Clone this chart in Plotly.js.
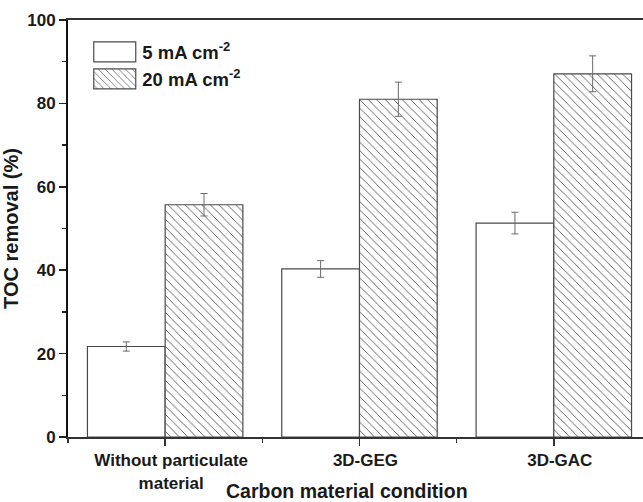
<!DOCTYPE html>
<html>
<head>
<meta charset="utf-8">
<script src="https://cdn.plot.ly/plotly-3.0.1.min.js"></script>
<style>html,body{margin:0;padding:0;background:#fff;}#chart{width:643px;height:502px;}</style>
</head>
<body>
<div id="chart"></div>
<script>
// ---- data ----
const categories = ["Without particulate<br>material", "3D-GEG", "3D-GAC"];
const seriesNames = ["5 mA cm<sup>-2</sup>", "20 mA cm<sup>-2</sup>"];
const toc5 = [21.7, 40.3, 51.3];
const toc5Err = [1.1, 2.0, 2.6];
const toc20 = [55.7, 81.0, 87.1];
const toc20Err = [2.7, 4.1, 4.3];
const yTicks = [0, 20, 40, 60, 80, 100];

const FONT = "Liberation Sans, Arial, Helvetica, sans-serif";
const xIdx = categories.map((_, i) => i);

const traces = [
  {
    type: "bar", name: seriesNames[0], x: xIdx, y: toc5,
    marker: { color: "#ffffff", line: { color: "#4a4a4a", width: 1.2 } },
    error_y: { type: "data", array: toc5Err, visible: true, color: "#6a6a6a", thickness: 1, width: 3.5 }
  },
  {
    type: "bar", name: seriesNames[1], x: xIdx, y: toc20,
    marker: {
      color: "#ffffff",
      line: { color: "#4a4a4a", width: 1.2 },
      pattern: { shape: "\\", fgcolor: "#555555", bgcolor: "#ffffff", size: 6, solidity: 0.15 }
    },
    error_y: { type: "data", array: toc20Err, visible: true, color: "#6a6a6a", thickness: 1, width: 3.5 }
  }
];

const layout = {
  width: 643, height: 502,
  margin: { l: 68, r: 0, t: 20, b: 65 },
  paper_bgcolor: "#ffffff", plot_bgcolor: "#ffffff",
  barmode: "group", bargap: 0.2, bargroupgap: 0,
  font: { family: FONT, color: "#1a1a1a", weight: "bold" },
  showlegend: true,
  legend: {
    x: 0.0335, xanchor: "left", y: 0.968, yanchor: "top",
    bgcolor: "rgba(0,0,0,0)", itemwidth: 45,
    font: { family: FONT, size: 18.5, color: "#1a1a1a", weight: "bold" },
    tracegroupgap: 0
  },
  xaxis: {
    range: [-0.5, 2.459], tickmode: "array", tickvals: xIdx, ticktext: categories,
    showline: true, linecolor: "#333333", linewidth: 2, mirror: true,
    ticks: "outside", ticklen: 7, tickwidth: 1.5, tickcolor: "#333333",
    minor: { tickmode: "array", tickvals: [-0.5, 0.5, 1.5], ticks: "outside", ticklen: 4, tickwidth: 1.5, tickcolor: "#333333" },
    showgrid: false, zeroline: false, ticklabelshift: 6,
    tickfont: { family: FONT, size: 17, color: "#1a1a1a", weight: "bold" }
  },
  yaxis: {
    range: [0, 100], tickmode: "array", tickvals: yTicks,
    showline: true, linecolor: "#111111", linewidth: 2,
    ticks: "outside", ticklen: 7, tickwidth: 1.5, tickcolor: "#222222",
    minor: { dtick: 10, ticks: "outside", ticklen: 4, tickwidth: 1.5, tickcolor: "#222222" },
    showgrid: false, zeroline: false,
    tickfont: { family: FONT, size: 17, color: "#1a1a1a", weight: "bold" },
    title: { text: "TOC removal (%)", standoff: 8, font: { family: FONT, size: 20, color: "#1a1a1a", weight: "bold" } }
  },
  annotations: [{
    text: "Carbon material condition", xref: "paper", yref: "paper",
    x: 0.485, y: -0.13, xanchor: "center", yanchor: "middle", showarrow: false,
    font: { family: FONT, size: 19.5, color: "#1a1a1a", weight: "bold" }
  }]
};

Plotly.newPlot("chart", traces, layout, { displayModeBar: false, staticPlot: true }).then(gd => {
  gd.querySelectorAll(".legend .legendpoints path").forEach(p => {
    p.setAttribute("d", "M21,10H-21V-10H21Z");
  });
});
</script>
</body>
</html>
